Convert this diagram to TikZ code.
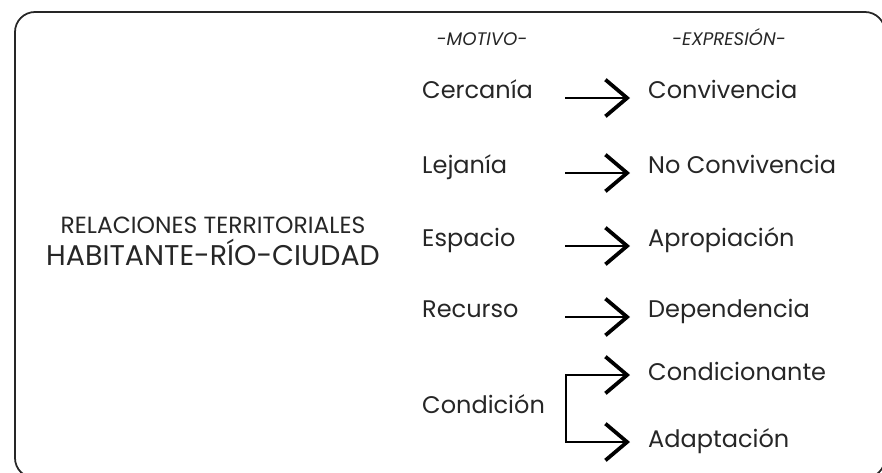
\documentclass[tikz,border=0pt]{standalone}
\usepackage{fontspec}
\setmainfont{Poppins}
\usetikzlibrary{arrows.meta,calc}
\tikzset{
  texto/.style={anchor=base west, inner sep=0pt, font=\fontsize{20.5}{24}\selectfont, text=black!85},
  cabecera/.style={anchor=base, inner sep=0pt, font=\fontsize{15.5}{18}\selectfont\itshape, text=black!85},
  titulo/.style={anchor=base, inner sep=0pt, text=black!85},
  flecha/.style={line width=1.3pt, -{Straight Barb[length=0.65cm,width=1.1cm,line width=3.2pt]}},
  horquilla/.style={line width=1.3pt, {Straight Barb[length=0.65cm,width=1.1cm,line width=3.2pt]}-{Straight Barb[length=0.65cm,width=1.1cm,line width=3.2pt]}},
}
\begin{document}
\begin{tikzpicture}[x=0.03cm,y=-0.03cm]
\useasboundingbox (0,0) rectangle (882,473);
% marco
\draw[line width=1.5pt, rounded corners=0.6cm, black!85] (15,12) rectangle (885,478);
% titulo
\node[titulo, font=\fontsize{20}{24}\selectfont] (rel) at (213,233) {RELACIONES TERRITORIALES};
\node[titulo, font=\fontsize{24.3}{29}\selectfont] (hab) at (213,265) {HABITANTE-RÍO-CIUDAD};
% cabeceras
\node[cabecera] (motivo) at (482,45) {-MOTIVO-};
\node[cabecera] (expresion) at (729,45) {-EXPRESIÓN-};
% motivos
\node[texto] (cer) at (422,98) {Cercanía};
\node[texto] (lej) at (422,173) {Lejanía};
\node[texto] (esp) at (422,246) {Espacio};
\node[texto] (rec) at (422,317) {Recurso};
\node[texto] (con) at (422,413) {Condición};
% expresiones
\node[texto] (conv) at (648,98) {Convivencia};
\node[texto] (noconv) at (648,173) {No Convivencia};
\node[texto] (apro) at (648,246) {Apropiación};
\node[texto] (dep) at (648,317) {Dependencia};
\node[texto] (cond) at (648,380) {Condicionante};
\node[texto] (adap) at (648,447) {Adaptación};
% flechas
\coordinate (ini) at (565,0);
\coordinate (fin) at (630,0);
\coordinate (ramal) at (566,0);
\draw[flecha] (cer.base -| ini) -- (conv.base -| fin);
\draw[flecha] (lej.base -| ini) -- (noconv.base -| fin);
\draw[flecha] (esp.base -| ini) -- (apro.base -| fin);
\draw[flecha] (rec.base -| ini) -- (dep.base -| fin);
\draw[horquilla] ($(cond.base -| fin)+(0,-5)$) -| ($(adap.base -| ramal)+(0,-5)$) -- ($(adap.base -| fin)+(0,-5)$);
\end{tikzpicture}
\end{document}
